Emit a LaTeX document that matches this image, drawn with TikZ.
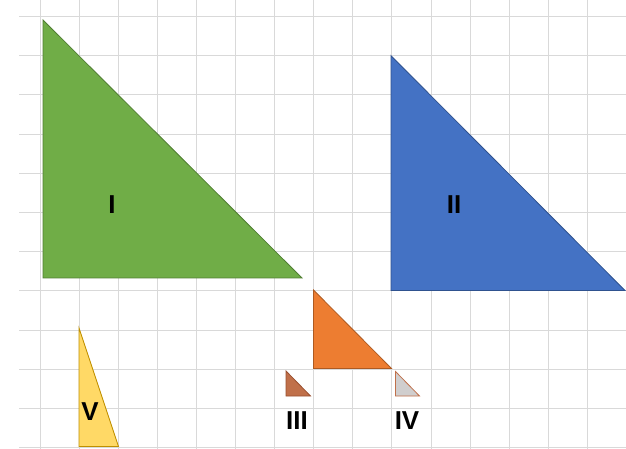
\documentclass[tikz,border=0pt]{standalone}
\usepackage{fontspec}
\setmainfont{Liberation Sans}
\definecolor{gridc}{HTML}{D9D9D9}
\definecolor{greenf}{HTML}{70AD47}
\definecolor{greend}{HTML}{507E32}
\definecolor{bluef}{HTML}{4472C4}
\definecolor{blued}{HTML}{2F528F}
\definecolor{orangef}{HTML}{ED7D31}
\definecolor{oranged}{HTML}{AE5A21}
\definecolor{yellowf}{HTML}{FFD966}
\definecolor{yellowd}{HTML}{BF9000}
\definecolor{brownf}{HTML}{C0704A}
\definecolor{brownd}{HTML}{9A5030}
\definecolor{greyf}{HTML}{D0CECE}
\begin{document}
\begin{tikzpicture}[x=1bp,y=-1bp,
  gridline/.style={draw=gridc,line width=1bp},
  tri/.style={line width=0.8bp,line join=miter},
  lab/.style={font=\bfseries\fontsize{26}{26}\selectfont,text=black,inner sep=0pt}]
\useasboundingbox (0,0) rectangle (626,449);
\fill[white] (0,0) rectangle (626,449);
% grid
\foreach \i in {0,...,15}{\draw[gridline] ({40+39.1*\i},0) -- ({40+39.1*\i},449);}
\foreach \j in {0,...,11}{\draw[gridline] (19,{16.5+39.2*\j}) -- (626,{16.5+39.2*\j});}
% triangles
\filldraw[tri,fill=greenf,draw=greend] (43,20) -- (43,278) -- (302,278) -- cycle;
\filldraw[tri,fill=bluef,draw=blued] (391,55.7) -- (391,290.5) -- (625,290.5) -- cycle;
\filldraw[tri,fill=orangef,draw=oranged] (313.5,290) -- (313.5,368.5) -- (391.5,368.5) -- cycle;
\filldraw[tri,fill=brownf,draw=brownd] (286,371) -- (286,396) -- (310.5,396) -- cycle;
\filldraw[tri,fill=greyf,draw=brownf] (395.5,371.5) -- (395.5,396) -- (419.5,396) -- cycle;
\filldraw[tri,fill=yellowf,draw=yellowd] (79,328) -- (79,446.5) -- (118.5,446.5) -- cycle;
% labels
\node[lab] (l1) at (112,205) {I};
\node[lab] (l2) at (454,205) {II};
\node[lab] (l3) at (297,421) {III};
\node[lab] (l4) at (407,421) {IV};
\node[lab] (l5) at (90,412) {V};
\end{tikzpicture}
\end{document}
